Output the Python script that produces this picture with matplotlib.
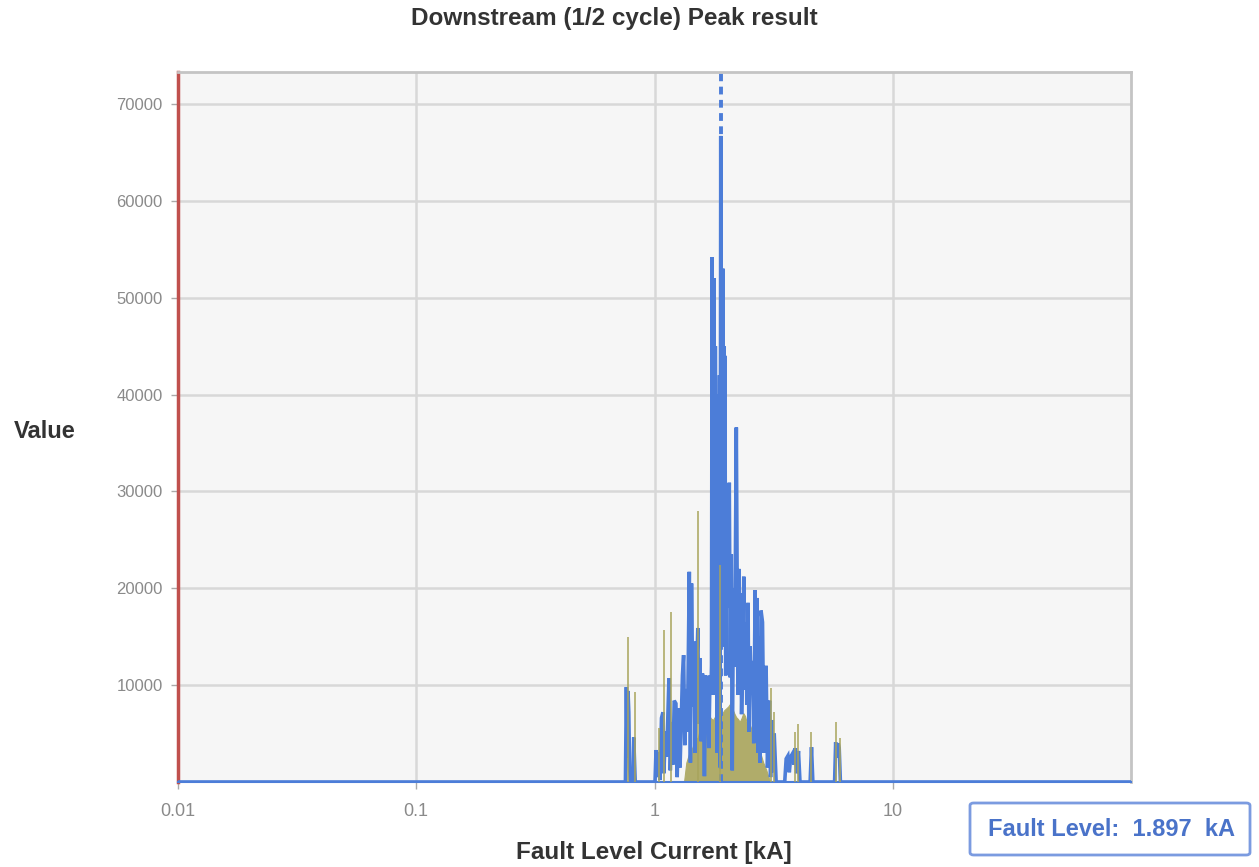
import matplotlib
matplotlib.use("Agg")
import matplotlib.pyplot as plt
from matplotlib.patches import FancyBboxPatch

plt.rcParams['font.family'] = ['Liberation Sans', 'DejaVu Sans']

# Downstream (1/2 cycle) peak distribution, blue series
fault_kA = [0.01, 0.755,
            0.762, 0.768, 0.774, 0.780, 0.786, 0.792, 0.812, 0.818, 0.824, 0.830,
            1.005, 1.015, 1.025, 1.04, 1.055, 1.07, 1.085, 1.095, 1.11, 1.125,
            1.15, 1.165, 1.18, 1.195, 1.21, 1.23, 1.245, 1.265, 1.28, 1.31,
            1.325, 1.34, 1.355, 1.375, 1.40, 1.415, 1.43, 1.45, 1.465, 1.48,
            1.50, 1.52, 1.535, 1.55, 1.57, 1.59, 1.605, 1.62, 1.64, 1.655,
            1.675, 1.69, 1.71, 1.725, 1.735, 1.745, 1.752, 1.76, 1.768, 1.778,
            1.788, 1.80, 1.81, 1.82, 1.835, 1.85, 1.86, 1.875, 1.885, 1.897,
            1.905, 1.915, 1.925, 1.935, 1.945, 1.955, 1.965, 1.975, 1.99, 2.01,
            2.03, 2.06, 2.08, 2.10, 2.12, 2.145, 2.17, 2.205, 2.225, 2.24, 2.26,
            2.28, 2.30, 2.32, 2.345, 2.37, 2.39, 2.42, 2.44, 2.47, 2.49,
            2.52, 2.545, 2.58, 2.61, 2.645, 2.665, 2.69, 2.72, 2.745, 2.77,
            2.80, 2.84, 2.88, 2.94, 2.98, 3.04, 3.07, 3.10, 3.14, 3.18, 3.24,
            3.52, 3.57, 3.63, 3.68, 3.73, 3.79, 3.85, 3.90, 3.95, 4.02, 4.08,
            4.50, 4.56, 4.62,
            5.70, 5.76, 5.82, 5.90, 5.96, 6.03, 100.0]
downstream_count = [0, 0,
                    9800, 2500, 9400, 7200, 1500, 0, 0, 4600, 2200, 0,
                    0, 3300, 500, 3100, 200, 6600, 7200, 900, 5200, 2600,
                    10700, 1200, 6200, 1800, 8400, 8100, 500, 7600, 1500, 11000,
                    13100, 3800, 9600, 5200, 21700, 2000, 20500, 7800, 14500, 3000,
                    10400, 15900, 6000, 12800, 4200, 11200, 8500, 600, 11000, 7000,
                    9500, 3500, 11000, 9000, 12000, 54200, 20000, 48000, 30000, 52000,
                    9000, 45000, 25000, 40000, 3000, 38000, 18000, 42000, 1500, 66700,
                    20000, 48000, 14000, 53000, 30000, 45000, 22000, 44000, 11000, 26000,
                    18000, 30900, 10800, 23500, 1200, 20000, 11900, 36600, 19000, 9000, 22000,
                    12000, 19500, 7000, 13000, 21200, 9500, 16500, 8000, 18500, 5200,
                    14000, 9000, 12500, 4000, 19800, 11000, 19000, 3000, 15000, 2000,
                    17700, 16500, 3000, 12000, 1500, 8400, 500, 6400, 1000, 5000, 0,
                    0, 2400, 2700, 1000, 2600, 2900, 1800, 3500, 900, 3200, 0,
                    0, 3600, 0,
                    0, 4100, 2500, 4000, 3500, 0, 0]

# Olive series, filled body
olive_kA = [1.33, 1.36, 1.40, 1.44, 1.48, 1.52, 1.56, 1.60, 1.64, 1.68,
            1.72, 1.76, 1.80, 1.84, 1.88, 1.92, 1.96, 2.00, 2.04, 2.08,
            2.12, 2.16, 2.20, 2.24, 2.28, 2.32, 2.36, 2.40, 2.44, 2.48,
            2.52, 2.56, 2.60, 2.66, 2.72, 2.78, 2.86, 2.94, 3.00, 3.06]
olive_count = [0, 2000, 3000, 3500, 4300, 4600, 5700, 6200, 6800, 7100,
               6600, 6400, 6800, 7000, 6000, 7000, 7400, 7600, 7800, 8100,
               7600, 7100, 6700, 6500, 6200, 6600, 7100, 6800, 6100, 6300,
               5800, 5400, 5100, 4400, 3600, 3000, 2000, 1300, 600, 0]

# Olive series, isolated tall bins
spike_kA = [0.776, 0.830, 1.04, 1.10, 1.17, 1.52, 1.88, 3.08, 3.18,
            3.88, 4.00, 4.56, 5.80, 6.00]
spike_count = [15000, 9300, 5600, 15700, 17500, 28000, 22400, 9700, 7200,
               5200, 6000, 5200, 6200, 4500]

fault_level = 1.897
x_ticks = [0.01, 0.1, 1, 10]
x_tick_labels = ["0.01", "0.1", "1", "10"]
y_ticks = [10000, 20000, 30000, 40000, 50000, 60000, 70000]

blue = "#4c7dd8"
olive = "#b0ac6a"
grey_text = "#8a8a8a"

fig = plt.figure(figsize=(12.59, 8.67), dpi=100)
ax = fig.add_axes([178 / 1259, 85 / 867, (1131 - 178) / 1259, (782 - 72) / 867])
ax.set_facecolor("#f6f6f6")

ax.set_xscale("log")
ax.set_xlim(0.01, 100)
ax.set_ylim(0, 73300)

ax.grid(True, which="major", color="#d8d8d8", linewidth=1.8, zorder=0)
ax.set_axisbelow(True)

ax.fill_between(olive_kA, olive_count, 0, color=olive, linewidth=0.8,
                edgecolor=olive, zorder=2)
ax.vlines(spike_kA, 0, spike_count, color="#a8a45c", linewidth=1.1, zorder=4)

ax.plot(fault_kA, downstream_count, color=blue, linewidth=2.6, zorder=3,
        solid_joinstyle="miter")

ax.axvline(fault_level, color=blue, linewidth=2.8, linestyle=(0, (2.0, 1.4)),
           zorder=2.5)

ax.set_xticks(x_ticks)
ax.set_xticklabels(x_tick_labels)
ax.set_xticks([], minor=True)
ax.set_yticks(y_ticks)
ax.tick_params(axis="both", colors="#aaaaaa", labelcolor=grey_text,
               labelsize=12, length=5, width=1)
ax.tick_params(axis="x", pad=10, labelsize=13)
ax.tick_params(axis="y", pad=6)

for side in ("top", "right"):
    ax.spines[side].set_color("#c4c4c4")
    ax.spines[side].set_linewidth(2)
ax.spines["bottom"].set_color(blue)
ax.spines["bottom"].set_linewidth(1.5)
ax.spines["left"].set_color("#c0504d")
ax.spines["left"].set_linewidth(2.5)

fig.text(614 / 1259, 1 - 19 / 867, "Downstream (1/2 cycle) Peak result",
         ha="center", va="center", fontsize=17.5, fontweight="bold",
         color="#333333")
fig.text(654 / 1259, 1 - 852 / 867, "Fault Level Current [kA]",
         ha="center", va="center", fontsize=17.5, fontweight="bold",
         color="#333333")
fig.text(45 / 1259, 1 - 432 / 867, "Value", ha="center", va="center",
         fontsize=17, fontweight="bold", color="#333333")

box = FancyBboxPatch((970 / 1259, 1 - 855 / 867), 280 / 1259, 52 / 867,
                     boxstyle="round,pad=0,rounding_size=0.003",
                     transform=fig.transFigure, facecolor="white",
                     edgecolor="#7b9be0", linewidth=2)
fig.add_artist(box)
fig.text(1111 / 1259, 1 - 829 / 867, "Fault Level:  %.3f  kA" % fault_level,
         ha="center", va="center", fontsize=17, fontweight="bold",
         color="#4a73c9")

fig.savefig("out.png", dpi=100)
